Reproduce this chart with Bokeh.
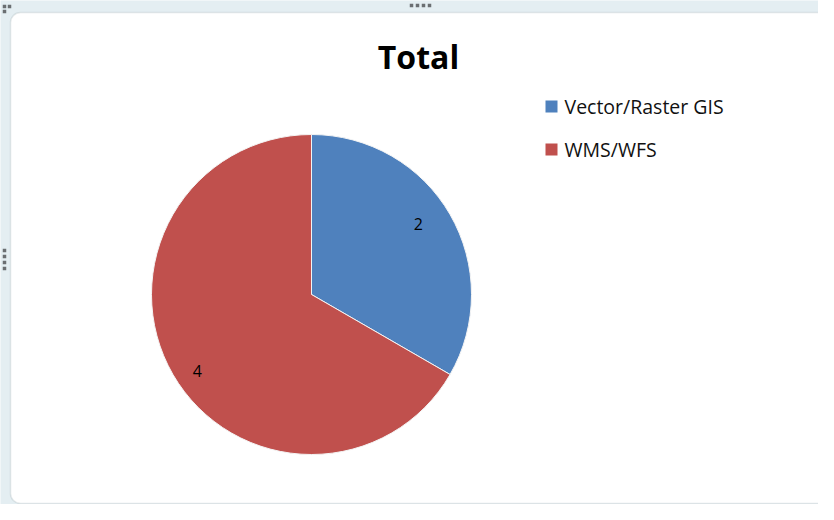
import math
from bokeh.plotting import figure
from bokeh.models import Range1d, BoxAnnotation, ColumnDataSource
from bokeh.core.properties import value
from bokeh.embed import file_html
from bokeh.resources import INLINE

# ---- data ----
categories = ["Vector/Raster GIS", "WMS/WFS"]
values = [2, 4]
colors = ["#4F81BD", "#C0504D"]
chart_title = "Total"

FONT = "Open Sans"

# figure: data units == page pixels (y measured upward: y_data = 520 - page_y)
W, H = 818, 504
p = figure(width=W, height=H, x_range=Range1d(8, 826), y_range=Range1d(8, 512),
           output_backend="svg", toolbar_location=None, min_border=0)
p.axis.visible = False
p.grid.visible = False
p.outline_line_color = None
p.background_fill_color = "#e4eef2"
p.border_fill_color = "white"

# chart area (white rounded box)
frame = BoxAnnotation(left=18, right=860, bottom=520 - 511, top=520 - 20,
                      fill_color="white", fill_alpha=1.0,
                      line_color="#a9b5ba", line_width=1.5,
                      border_radius=10, level="underlay")
p.add_layout(frame)

# selection handles of the chart object
hx = [419, 425, 431, 437, 12, 12, 12, 12, 419, 425, 431, 437, 12, 17, 12]
hy = [520 - 13] * 4 + [520 - 258, 520 - 264, 520 - 270, 520 - 276] + [520 - 516] * 4 + [520 - 14, 520 - 14, 520 - 19]
p.scatter(x=hx, y=hy, marker="square", size=3.5, fill_color="#6b6f72",
          line_color=None, level="overlay")

# ---- pie ----
cx, cy, r = 319, 218, 160
label_r = [0.80, 0.86]          # label distance from centre (fraction of radius)
label_turn = [3.5, 4.0]         # small angular nudge of labels (degrees)
total = sum(values)
starts, ends, lx, ly = [], [], [], []
cur = math.pi / 2
for i, v in enumerate(values):
    span = v / total * 2 * math.pi
    end = cur
    start = cur - span
    starts.append(start)
    ends.append(end)
    mid = (start + end) / 2 + math.radians(label_turn[i])
    lx.append(cx + label_r[i] * r * math.cos(mid))
    ly.append(cy + label_r[i] * r * math.sin(mid))
    cur = start

src = ColumnDataSource(dict(cat=categories, val=values, color=colors,
                            start=starts, end=ends, lx=lx, ly=ly,
                            lbl=[str(v) for v in values]))
p.wedge(x=cx, y=cy, radius=r, start_angle="start", end_angle="end",
        fill_color="color", line_color="#f4f4f4", line_width=1, source=src)
p.text(x="lx", y="ly", text="lbl", source=src, text_font=value(FONT),
       text_font_size="16px", text_color="black",
       text_align="center", text_baseline="middle")

# ---- title ----
p.text(x=[426], y=[520 - 64], text=[chart_title], text_font=value(FONT),
       text_font_size="32px", text_font_style="bold", text_color="black",
       text_align="center", text_baseline="middle")

# ---- legend ----
leg_y = [520 - 114 - i * 43 for i in range(len(categories))]
leg_src = ColumnDataSource(dict(x=[559] * len(categories), y=leg_y,
                                tx=[572] * len(categories),
                                color=colors, cat=categories))
p.scatter(x="x", y="y", marker="square", size=12, fill_color="color",
          line_color=None, source=leg_src)
p.text(x="tx", y="y", text="cat", source=leg_src, text_font=value(FONT),
       text_font_size="19.5px", text_color="#111111",
       text_align="left", text_baseline="middle")

open("out.html", "w").write(file_html(p, INLINE))
